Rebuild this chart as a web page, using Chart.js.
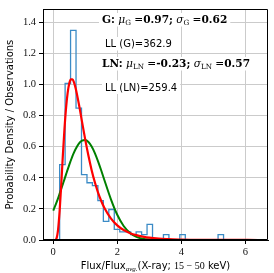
<!DOCTYPE html>
<html>
<head>
<meta charset="utf-8">
<script src="https://cdn.jsdelivr.net/npm/chart.js@4.4.1/dist/chart.umd.min.js"></script>
<style>
  html, body { margin: 0; padding: 0; background: #fff; }
  canvas { display: block; }
</style>
</head>
<body>
<canvas id="chart" width="274" height="273"></canvas>
<script>
// ---------- data ----------
const binEdges = [0.20, 0.371, 0.541, 0.712, 0.883, 1.054, 1.224, 1.395, 1.566, 1.736, 1.907,
                  2.078, 2.248, 2.419, 2.590, 2.761, 2.931, 3.102, 3.273, 3.443, 3.614,
                  3.785, 3.955, 4.126, 4.297, 4.468, 4.638, 4.809, 4.980, 5.150, 5.321];
const binHeights = [0.485, 1.006, 1.347, 0.848, 0.42, 0.368, 0.35, 0.253, 0.12, 0.196,
                    0.068, 0.052, 0.052, 0.035, 0.052, 0.035, 0.10, 0, 0, 0.035,
                    0, 0, 0.035, 0, 0, 0, 0, 0, 0, 0.035];

const fitX     = [0, 0.05, 0.1, 0.15, 0.2, 0.25, 0.3, 0.35, 0.4, 0.45, 0.5, 0.55, 0.6, 0.65, 0.7, 0.8, 0.9, 1.0,
                  1.1, 1.2, 1.3, 1.4, 1.5, 1.6, 1.8, 2.0, 2.2, 2.4, 2.6, 2.8, 3.0, 3.3, 3.6, 4.0, 4.5, 5.0, 5.5, 6.0, 6.4];
const lognormY = [0, 0.0001, 0.0094, 0.065, 0.187, 0.358, 0.542, 0.711, 0.848, 0.946, 1.006, 1.033, 1.033, 1.012, 0.976, 0.875, 0.759, 0.645,
                  0.541, 0.449, 0.371, 0.305, 0.251, 0.206, 0.139, 0.094, 0.064, 0.044, 0.031, 0.022, 0.015, 0.009, 0.006, 0.003, 0.0015, 0.0008, 0.0004, 0.0002, 0.0001];
const gaussY   = [0.189, 0.214, 0.240, 0.268, 0.298, 0.328, 0.359, 0.390, 0.422, 0.452, 0.483, 0.511, 0.539, 0.563, 0.585, 0.620, 0.639, 0.643,
                  0.630, 0.601, 0.559, 0.506, 0.447, 0.384, 0.263, 0.162, 0.090, 0.045, 0.020, 0.008, 0.003, 0.0006, 0.0001, 0, 0, 0, 0, 0, 0];

const xTicks = [0, 2, 4, 6];
const yTicks = [0, 0.2, 0.4, 0.6, 0.8, 1.0, 1.2, 1.4];

const fitNames = ['G', 'LN'];
const fitMu    = ['0.97', '-0.23'];
const fitSigma = ['0.62', '0.57'];
const fitLL    = ['362.9', '259.4'];

// ---------- fonts / colours ----------
const SERIF = '"Liberation Serif", serif';
const MATH = '"DejaVu Serif", serif';
const SANS = '"DejaVu Sans", sans-serif';
const FS = 10;
const MS = 10.6;

const histPts = [{ x: binEdges[0], y: 0 }];
binHeights.forEach((h, i) => histPts.push({ x: binEdges[i + 1], y: h }));
histPts.push({ x: binEdges[binEdges.length - 1], y: 0 });

function runsWidth(ctx, runs) {
    let w = 0;
    for (const r of runs) { ctx.font = r.f; w += ctx.measureText(r.t).width; }
    return w;
}
function drawRuns(ctx, x, y, runs, box) {
    const w = runsWidth(ctx, runs);
    if (box) {
        ctx.fillStyle = '#fff';
        ctx.fillRect(x - 3, y - 10, w + 6, 13.5);
    }
    ctx.fillStyle = '#000';
    let cx = x;
    for (const r of runs) {
        ctx.font = r.f;
        ctx.fillText(r.t, cx, y + (r.dy || 0));
        cx += ctx.measureText(r.t).width;
    }
    return w;
}

const bold = `bold ${MS}px ${MATH}`;
const rom = `${MS}px ${MATH}`;
const ital = `italic ${MS}px ${MATH}`;
const sub = `${MS * 0.68}px ${MATH}`;
const sans = `${FS}px ${SANS}`;

function fitLine(i) {
    return [
        { t: fitNames[i] + ':', f: bold },
        { t: ' ', f: rom },
        { t: 'μ', f: ital },
        { t: fitNames[i], f: sub, dy: 2 },
        { t: ' =', f: rom },
        { t: fitMu[i] + ';', f: bold },
        { t: ' ', f: rom },
        { t: 'σ', f: ital },
        { t: fitNames[i], f: sub, dy: 2 },
        { t: ' =', f: rom },
        { t: fitSigma[i], f: bold }
    ];
}

const decorations = {
    id: 'decorations',
    afterDraw(chart) {
        const { ctx, chartArea: a } = chart;
        ctx.save();
        // frame
        ctx.strokeStyle = '#000';
        ctx.lineWidth = 1;
        ctx.beginPath();
        ctx.rect(Math.round(a.left) + 0.5, Math.round(a.top) + 0.5,
                 Math.round(a.right - a.left) - 1, Math.round(a.bottom - a.top) - 1);
        ctx.stroke();

        // fit annotations
        ctx.textBaseline = 'alphabetic';
        ctx.textAlign = 'left';
        const tx = 102;
        drawRuns(ctx, tx, 23, fitLine(0), true);
        drawRuns(ctx, tx + 3, 47, [{ t: 'LL (' + fitNames[0] + ')=' + fitLL[0], f: sans }], true);
        drawRuns(ctx, tx, 67, fitLine(1), true);
        drawRuns(ctx, tx + 3, 90.5, [{ t: 'LL (' + fitNames[1] + ')=' + fitLL[1], f: sans }], true);

        // y title
        ctx.save();
        ctx.translate(10, (a.top + a.bottom) / 2);
        ctx.rotate(-Math.PI / 2);
        ctx.textAlign = 'center';
        ctx.textBaseline = 'middle';
        ctx.font = sans;
        ctx.fillStyle = '#000';
        ctx.fillText('Probability Density / Observations', 0, 0);
        ctx.restore();

        // x title (mixed fonts)
        const xr = [
            { t: 'Flux/Flux', f: sans },
            { t: 'avg.', f: `italic ${FS * 0.7}px ${SERIF}`, dy: 2 },
            { t: '(X-ray; ', f: sans },
            { t: '15 − 50', f: `${FS}px ${SERIF}` },
            { t: ' keV)', f: sans }
        ];
        const w = runsWidth(ctx, xr);
        drawRuns(ctx, (a.left + a.right) / 2 - w / 2, 269, xr, false);
        ctx.restore();
    }
};

new Chart(document.getElementById('chart'), {
    type: 'line',
    data: {
        datasets: [
            { label: 'hist', data: histPts, stepped: 'after', borderColor: '#3b8bc6', borderWidth: 1.3,
              pointRadius: 0, fill: false, order: 3 },
            { label: 'Gauss', data: fitX.map((x, i) => ({ x, y: gaussY[i] })), borderColor: '#008000',
              borderWidth: 2, pointRadius: 0, cubicInterpolationMode: 'monotone', fill: false, order: 2 },
            { label: 'LogNormal', data: fitX.map((x, i) => ({ x, y: lognormY[i] })), borderColor: '#ff0000',
              borderWidth: 2.2, pointRadius: 0, cubicInterpolationMode: 'monotone', fill: false, order: 1 }
        ]
    },
    options: {
        responsive: false,
        animation: false,
        devicePixelRatio: 1,
        layout: { padding: { top: 5, right: 6, left: 0, bottom: 0 } },
        plugins: { legend: { display: false }, tooltip: { enabled: false } },
        scales: {
            x: {
                type: 'linear', min: -0.32, max: 6.71,
                afterBuildTicks: s => { s.ticks = xTicks.map(v => ({ value: v })); },
                afterFit: s => { s.height = 33; },
                grid: { color: '#cbcbcb', lineWidth: 1, tickLength: 4, tickColor: '#000' },
                border: { color: '#000', width: 1 },
                ticks: { font: { family: SERIF, size: 10.5 }, color: '#111', padding: 2,
                         maxRotation: 0, callback: v => String(v) }
            },
            y: {
                min: 0, max: 1.483,
                afterBuildTicks: s => { s.ticks = yTicks.map(v => ({ value: v })); },
                afterFit: s => { s.width = 43; },
                grid: { color: '#cbcbcb', lineWidth: 1, tickLength: 4, tickColor: '#000' },
                border: { color: '#000', width: 1 },
                ticks: { font: { family: SERIF, size: 10.5 }, color: '#111', padding: 3,
                         callback: v => Number(v).toFixed(1) }
            }
        }
    },
    plugins: [decorations]
});
</script>
</body>
</html>
